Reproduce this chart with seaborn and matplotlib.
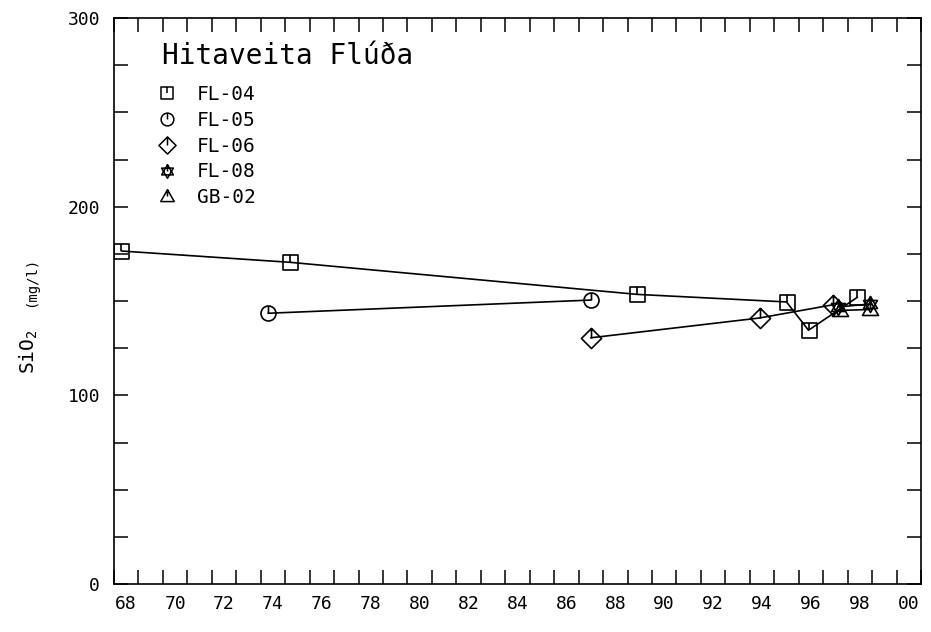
import numpy as np
import pandas as pd
import matplotlib
matplotlib.use("Agg")
import matplotlib.pyplot as plt
from matplotlib.path import Path
from matplotlib.lines import Line2D
from matplotlib.ticker import MultipleLocator, FixedLocator, NullFormatter
import seaborn as sns

# Gögn lesin af myndinni (ár sem tugabrot, SiO2 í mg/l)
fl04_year = [68.3, 75.2, 89.4, 95.5, 96.4, 98.4]
fl04_sio2 = [176.5, 170.5, 153.5, 149.5, 134.5, 152.0]

fl05_year = [74.3, 87.5]
fl05_sio2 = [143.5, 150.5]

fl06_year = [87.5, 94.4, 97.4]
fl06_sio2 = [130.5, 141.0, 148.0]

fl08_year = [97.6, 98.9]
fl08_sio2 = [146.8, 148.4]

gb02_year = [97.7, 98.9]
gb02_sio2 = [145.0, 145.5]

wells = ["FL-04", "FL-05", "FL-06", "FL-08", "GB-02"]
title_text = "Hitaveita Flúða"
x_labels = ["68", "70", "72", "74", "76", "78", "80", "82", "84",
            "86", "88", "90", "92", "94", "96", "98", "00"]


def with_tick(verts):
    # lokaður ferill + lítið strik frá toppi að miðju
    codes = [Path.MOVETO] + [Path.LINETO] * (len(verts) - 1) + [Path.CLOSEPOLY]
    outline = Path(verts + [verts[0]], codes)
    tick = Path([(0, 1), (0, 0)], [Path.MOVETO, Path.LINETO])
    return Path.make_compound_path(outline, tick)


square = with_tick([(-1, -1), (1, -1), (1, 1), (-1, 1)])
circle = Path.make_compound_path(Path.unit_circle(),
                                 Path([(0, 1), (0, 0)], [Path.MOVETO, Path.LINETO]))
diamond = with_tick([(0, 1), (1, 0), (0, -1), (-1, 0)])
h = np.sqrt(3) / 2
tri_up = [(0, 1), (-h, -0.5), (h, -0.5)]
tri_dn = [(0, -1), (h, 0.5), (-h, 0.5)]
star = Path.make_compound_path(
    Path(tri_up + [tri_up[0]], [Path.MOVETO, Path.LINETO, Path.LINETO, Path.CLOSEPOLY]),
    Path(tri_dn + [tri_dn[0]], [Path.MOVETO, Path.LINETO, Path.LINETO, Path.CLOSEPOLY]),
    Path([(0, 1), (0, 0)], [Path.MOVETO, Path.LINETO]))
triangle = with_tick([(-1, -0.75), (1, -0.75), (0, 1)])

markers = [square, circle, diamond, star, triangle]
msizes = [10.8, 10.8, 14.5, 11.5, 11.5]
series = [(fl04_year, fl04_sio2), (fl05_year, fl05_sio2), (fl06_year, fl06_sio2),
          (fl08_year, fl08_sio2), (gb02_year, gb02_sio2)]

sns.set_theme(style="ticks")
plt.rcParams["font.family"] = ["DejaVu Sans Mono", "DejaVu Sans"]
plt.rcParams["mathtext.default"] = "regular"
plt.rcParams["text.color"] = "black"
plt.rcParams["xtick.color"] = "black"
plt.rcParams["ytick.color"] = "black"

fig = plt.figure(figsize=(9.31, 6.32), dpi=100)
ax = fig.add_axes([114 / 931, 1 - 584 / 632, 807 / 931, 566 / 632])

for name, (xs, ys), mk, ms in zip(wells, series, markers, msizes):
    df = pd.DataFrame({"year": xs, "sio2": ys})
    sns.lineplot(data=df, x="year", y="sio2", ax=ax, sort=False, estimator=None,
                 color="black", linewidth=1.2, marker=mk, markersize=ms,
                 markerfacecolor="none", markeredgecolor="black",
                 markeredgewidth=1.2, legend=False)

ax.set_xlim(68, 101)
ax.set_ylim(0, 300)
ax.set_xlabel("")
ax.set_ylabel("")

# strik á hverju ári, ártöl milli strika
ax.xaxis.set_major_locator(MultipleLocator(1))
ax.xaxis.set_major_formatter(NullFormatter())
ax.xaxis.set_minor_locator(FixedLocator([int(s) + 0.5 if int(s) >= 68 else 100.5
                                         for s in x_labels]))
ax.set_xticklabels(x_labels, minor=True)
ax.tick_params(axis="x", which="major", direction="in", length=10, width=1.1,
               top=True, bottom=True)
ax.tick_params(axis="x", which="minor", length=0, pad=8, labelsize=13)

ax.yaxis.set_major_locator(MultipleLocator(100))
ax.yaxis.set_minor_locator(MultipleLocator(25))
ax.tick_params(axis="y", which="both", direction="in", length=10, width=1.1,
               left=True, right=True)
ax.tick_params(axis="y", which="major", labelsize=13, pad=10)

for sp in ax.spines.values():
    sp.set_linewidth(1.2)
    sp.set_color("black")

fig.text(29 / 931, 1 - 352 / 632, "SiO$_2$", rotation=90, ha="center", va="center",
         fontsize=14)
fig.text(31 / 931, 1 - 282 / 632, "(mg/l)", rotation=90, ha="center", va="center",
         fontsize=10)

fig.text(162 / 931, 1 - 56 / 632, title_text, ha="left", va="center", fontsize=20)

handles = [Line2D([], [], linestyle="none", marker=mk, markersize=ms * 0.85,
                  markerfacecolor="none", markeredgecolor="black", markeredgewidth=1.1)
           for mk, ms in zip(markers, msizes)]
leg = ax.legend(handles, wells, loc="upper left",
                bbox_to_anchor=(43 / 807, 1 - 67 / 566), frameon=False,
                fontsize=14, handlelength=1.0, borderpad=0, borderaxespad=0,
                handletextpad=1.05, labelspacing=0.35)

fig.savefig("out.png", dpi=100)
